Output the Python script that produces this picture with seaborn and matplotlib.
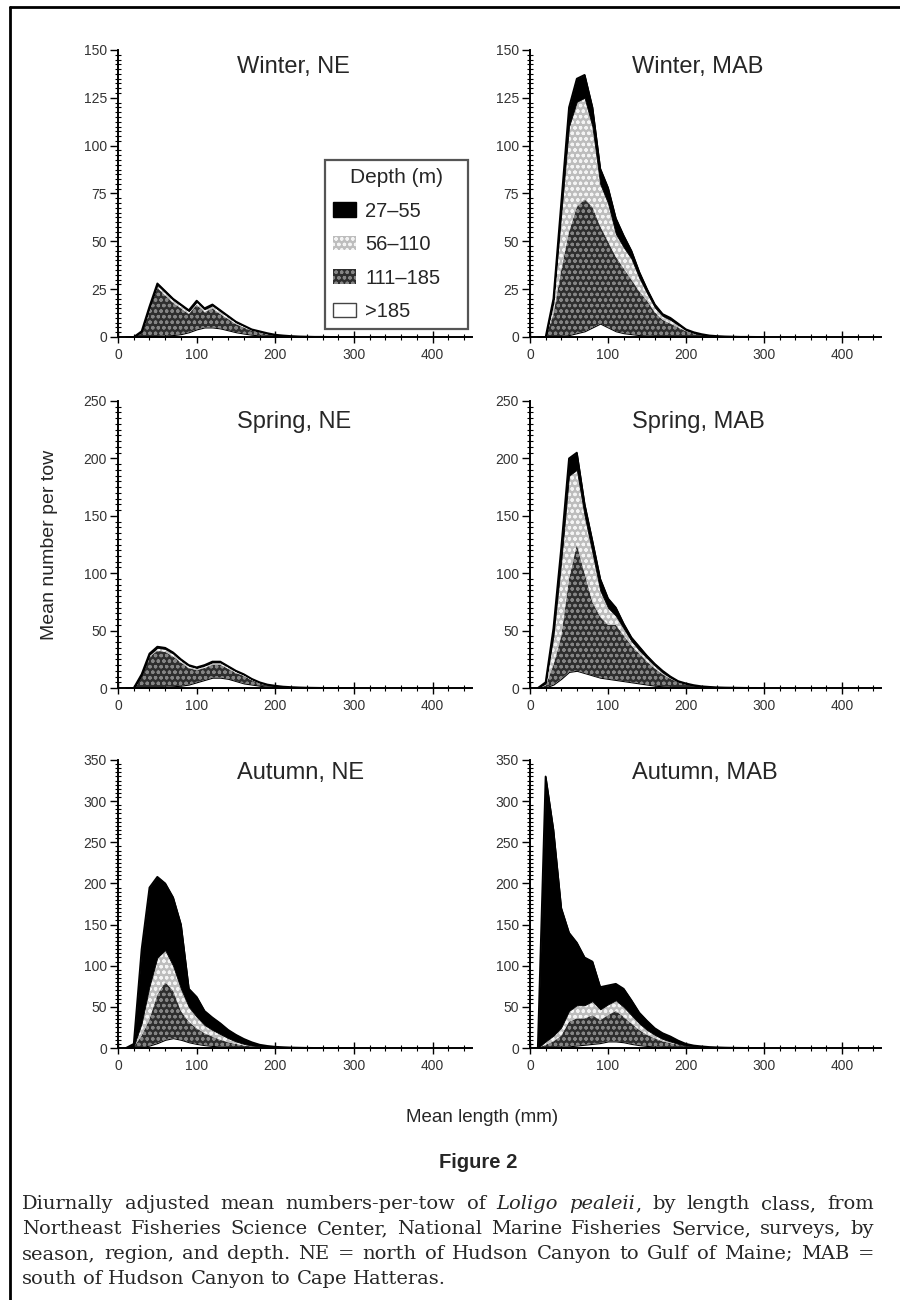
import numpy as np
import pandas as pd
import matplotlib
matplotlib.use("Agg")
import matplotlib.pyplot as plt
from matplotlib.lines import Line2D
from matplotlib.patches import Patch
from matplotlib.ticker import MultipleLocator
import seaborn as sns

# length classes (mm), bin centres
lengths = [10, 20, 30, 40, 50, 60, 70, 80, 90, 100, 110, 120, 130, 140, 150,
           160, 170, 180, 190, 200, 210, 220, 230, 240, 250, 260, 270, 280, 290, 300]
depths = ["27–55", "56–110", "111–185", ">185"]

# mean number per tow by depth stratum
winter_ne_27_55 = [0, 0, 0.2, 0.5, 0.8, 0.7, 0.6, 0.5, 0.5, 0.6, 0.5, 0.5, 0.5, 0.4, 0.3,
                   0.2, 0.2, 0.1, 0.1, 0.1, 0.05, 0.05, 0, 0, 0, 0, 0, 0, 0, 0]
winter_ne_56_110 = [0, 0, 0.3, 1, 1.5, 1.5, 1.5, 1.5, 1.5, 1.5, 1.5, 1.5, 1.5, 1.2, 1,
                    0.8, 0.5, 0.4, 0.3, 0.2, 0.1, 0.1, 0, 0, 0, 0, 0, 0, 0, 0]
winter_ne_111_185 = [0, 0, 2.5, 14.2, 25.2, 21, 16.9, 13.5, 9.5, 12.9, 8, 10, 7.5, 5.9, 4.2,
                     3.2, 2.1, 1.7, 1.1, 0.6, 0.45, 0.25, 0.2, 0.2, 0.1, 0.1, 0.05, 0.05, 0, 0]
winter_ne_185 = [0, 0, 0, 0.3, 0.5, 0.8, 1, 1.5, 2.5, 4, 5, 5, 4.5, 3.5, 2.5,
                 1.8, 1.2, 0.8, 0.5, 0.3, 0.2, 0.1, 0.1, 0, 0, 0, 0, 0, 0, 0]

winter_mab_27_55 = [0, 0, 2, 6, 10, 12, 12, 10, 8, 8, 8, 6, 4, 3, 2,
                    1.5, 1, 1, 0.7, 0.4, 0.3, 0.2, 0.1, 0.05, 0.05, 0.02, 0, 0.02, 0, 0]
winter_mab_56_110 = [0, 0, 6, 29, 55, 55, 53, 42, 22, 20, 12, 11, 11, 7, 4,
                     2.5, 2, 2, 1.3, 0.6, 0.2, 0.1, 0.1, 0.05, 0.05, 0.03, 0, 0.03, 0, 0]
winter_mab_111_185 = [0, 0, 12, 34.5, 54, 66, 69, 63, 51, 45, 39, 34, 28.5, 23, 18.2,
                      12.5, 8.6, 6.7, 4.8, 2.9, 1.9, 1.2, 0.6, 0.4, 0.2, 0.15, 0.1, 0.05, 0.05, 0]
winter_mab_185 = [0, 0, 0, 0.5, 1, 2, 3, 5, 7, 5, 3, 2, 1.5, 1, 0.8,
                  0.5, 0.4, 0.3, 0.2, 0.1, 0.1, 0, 0, 0, 0, 0, 0, 0, 0, 0]

spring_ne_27_55 = [0, 0, 0.5, 1, 1, 1, 1, 0.8, 0.6, 0.5, 0.5, 0.6, 0.6, 0.5, 0.4,
                   0.3, 0.2, 0.2, 0.1, 0.1, 0.05, 0, 0, 0, 0, 0, 0, 0, 0, 0]
spring_ne_56_110 = [0, 0, 1, 2, 2.5, 2.5, 2.5, 2, 2, 2, 2, 2, 2, 1.8, 1.5,
                    1.2, 1, 0.7, 0.5, 0.3, 0.2, 0.1, 0.1, 0, 0, 0, 0, 0, 0, 0]
spring_ne_111_185 = [0, 0, 10.5, 26.7, 32, 30.5, 26, 20.2, 14.4, 10.5, 10.5, 11.4, 11.4, 8.7, 7.1,
                     6.5, 3.8, 2.1, 1.4, 1.0, 0.65, 0.5, 0.3, 0.3, 0.2, 0.1, 0.1, 0.05, 0, 0]
spring_ne_185 = [0, 0, 0, 0.3, 0.5, 1, 1.5, 2, 3, 5, 7, 9, 9, 8, 6,
                 4, 3, 2, 1, 0.6, 0.3, 0.2, 0.1, 0, 0, 0, 0, 0, 0, 0]

spring_mab_27_55 = [0, 1, 7, 12, 15, 15, 10, 10, 10, 8, 7, 4, 3, 3, 2,
                    1.5, 1.5, 1, 0.5, 0.4, 0.3, 0.2, 0.1, 0.1, 0.05, 0.05, 0.05, 0.02, 0.02, 0.01]
spring_mab_56_110 = [0, 2, 25, 65, 90, 65, 50, 43, 23, 15, 8, 6, 4, 3, 3,
                     2.5, 1.5, 1, 0.5, 0.6, 0.2, 0.1, 0.1, 0.05, 0.05, 0.05, 0.03, 0.02, 0.02, 0.01]
spring_mab_111_185 = [0, 1.5, 17, 37, 81, 110, 87, 64, 53, 47, 48, 40, 32, 26, 20,
                      15, 10.5, 7, 4.4, 2.6, 1.8, 1.1, 0.7, 0.4, 0.3, 0.2, 0.12, 0.06, 0.06, 0.03]
spring_mab_185 = [0, 0.5, 3, 8, 14, 15, 13, 11, 9, 8, 7, 6, 5, 4, 3,
                  2, 1.5, 1, 0.6, 0.4, 0.2, 0.1, 0.1, 0.05, 0, 0, 0, 0, 0, 0]

autumn_ne_27_55 = [0, 3, 90, 120, 98, 81, 83, 78, 22, 24, 17, 15, 13, 10, 8,
                   6, 4, 2, 1.3, 0.8, 0.6, 0.4, 0.3, 0.15, 0.1, 0.05, 0.05, 0, 0, 0]
autumn_ne_56_110 = [0, 1, 15, 40, 45, 39, 30, 27, 18, 14, 10, 8, 7, 5, 3,
                    2, 1, 0.8, 0.5, 0.3, 0.2, 0.1, 0.05, 0.05, 0, 0, 0, 0, 0, 0]
autumn_ne_111_185 = [0, 1, 14, 32, 59, 70, 58, 35, 25, 19, 14.5, 11.5, 8.2, 5.8, 4.2,
                     2.5, 1.7, 1, 0.6, 0.35, 0.2, 0.1, 0.05, 0, 0, 0, 0, 0, 0, 0]
autumn_ne_185 = [0, 0, 1, 3, 6, 10, 12, 10, 7, 5, 3.5, 2.5, 1.8, 1.2, 0.8,
                 0.5, 0.3, 0.2, 0.1, 0.05, 0, 0, 0, 0, 0, 0, 0, 0, 0, 0]

autumn_mab_27_55 = [0, 322, 250, 145, 95, 76, 58, 48, 27, 23, 20, 22, 18, 13, 11,
                    8, 7, 6, 4, 2, 1, 0.8, 0.5, 0.3, 0.2, 0.1, 0.1, 0.05, 0.02, 0]
autumn_mab_56_110 = [0, 4, 7, 10, 13, 16, 16, 17, 13, 13, 13, 12, 10, 8, 6,
                     4, 3, 2, 1, 0.5, 0.5, 0.3, 0.2, 0.15, 0.1, 0.08, 0.04, 0.02, 0.01, 0]
autumn_mab_111_185 = [0, 3.5, 7, 13.5, 30, 33, 32, 35, 28, 32, 37, 31, 25, 18.5, 13.5,
                      10.2, 6.8, 5.2, 3.5, 2.2, 1.3, 0.8, 0.45, 0.35, 0.2, 0.12, 0.06, 0.03, 0.02, 0]
autumn_mab_185 = [0, 0.5, 1, 1.5, 2, 3, 4, 5, 6, 8, 8, 7, 5, 3.5, 2.5,
                  1.8, 1.2, 0.8, 0.5, 0.3, 0.2, 0.1, 0.05, 0, 0, 0, 0, 0, 0, 0]

# (title, row, col, ymax, major step, minor step, series in depth order)
panels = [
    ("Winter, NE", 0, 0, 150, 25, 2.5, [winter_ne_27_55, winter_ne_56_110, winter_ne_111_185, winter_ne_185]),
    ("Winter, MAB", 0, 1, 150, 25, 2.5, [winter_mab_27_55, winter_mab_56_110, winter_mab_111_185, winter_mab_185]),
    ("Spring, NE", 1, 0, 250, 50, 5, [spring_ne_27_55, spring_ne_56_110, spring_ne_111_185, spring_ne_185]),
    ("Spring, MAB", 1, 1, 250, 50, 5, [spring_mab_27_55, spring_mab_56_110, spring_mab_111_185, spring_mab_185]),
    ("Autumn, NE", 2, 0, 350, 50, 5, [autumn_ne_27_55, autumn_ne_56_110, autumn_ne_111_185, autumn_ne_185]),
    ("Autumn, MAB", 2, 1, 350, 50, 5, [autumn_mab_27_55, autumn_mab_56_110, autumn_mab_111_185, autumn_mab_185]),
]

caption = [
    "Diurnally adjusted mean numbers-per-tow of _Loligo_ _pealeii_, by length class, from",
    "Northeast Fisheries Science Center, National Marine Fisheries Service, surveys, by",
    "season, region, and depth. NE = north of Hudson Canyon to Gulf of Maine; MAB =",
    "south of Hudson Canyon to Cape Hatteras.",
]

LIGHT = "#bdbdbd"
DARK = "#2e2e2e"
palette = {"27–55": "black", "56–110": LIGHT, "111–185": DARK, ">185": "white"}
styles = {
    "27–55": dict(facecolor="black", edgecolor="black", hatch=None, lw=0.6),
    "56–110": dict(facecolor=LIGHT, edgecolor="#f4f4f4", hatch="ooo", lw=0),
    "111–185": dict(facecolor=DARK, edgecolor="#858585", hatch="ooo", lw=0),
    ">185": dict(facecolor="white", edgecolor="black", hatch=None, lw=0.8),
}

sns.set_theme(style="ticks")
plt.rcParams["font.family"] = ["Liberation Sans", "DejaVu Sans"]
plt.rcParams["hatch.linewidth"] = 0.9
plt.rcParams["axes.edgecolor"] = "black"
plt.rcParams["xtick.color"] = "black"
plt.rcParams["ytick.color"] = "black"

W, H = 900, 1300
fig = plt.figure(figsize=(9, 13), dpi=100)

col_x = [118, 530]
col_w = [354, 351]
row_top = [50, 401, 760]
row_bot = [337, 688, 1048]
title_x = [0.336, 0.29]
title_y = [0.941, 0.927, 0.955]

bin_edges = [l - 5 for l in lengths] + [lengths[-1] + 5]
hex_of = {k: matplotlib.colors.to_hex(v) for k, v in palette.items()}

axes = []
for title, r, c, ymax, major, minor, series in panels:
    ax = fig.add_axes([col_x[c] / W, 1 - row_bot[r] / H, col_w[c] / W, (row_bot[r] - row_top[r]) / H])
    df = pd.DataFrame({
        "length": lengths * len(depths),
        "depth": [d for d in depths for _ in lengths],
        "count": [v for s in series for v in s],
    })
    sns.histplot(data=df, x="length", weights="count", hue="depth", hue_order=depths,
                 multiple="stack", element="poly", bins=bin_edges, palette=palette,
                 alpha=1, legend=False, ax=ax)
    for coll in ax.collections:
        fc = matplotlib.colors.to_hex(coll.get_facecolor()[0])
        for d, hx in hex_of.items():
            if hx == fc:
                st = styles[d]
                coll.set_facecolor(st["facecolor"])
                coll.set_edgecolor(st["edgecolor"])
                coll.set_hatch(st["hatch"])
                coll.set_linewidth(st["lw"])
    total = [sum(v) for v in zip(*series)]
    sns.lineplot(x=lengths, y=total, color="black", linewidth=1.3, ax=ax)

    ax.set_xlim(0, 450)
    ax.set_ylim(0, ymax)
    ax.set_xlabel("")
    ax.set_ylabel("")
    ax.xaxis.set_major_locator(MultipleLocator(100))
    ax.xaxis.set_minor_locator(MultipleLocator(20))
    ax.yaxis.set_major_locator(MultipleLocator(major))
    ax.yaxis.set_minor_locator(MultipleLocator(minor))
    ax.tick_params(axis="y", which="major", direction="out", length=6, width=1,
                   labelsize=10, labelcolor="#333333", pad=2)
    ax.tick_params(axis="y", which="minor", direction="inout", length=4, width=0.8)
    ax.tick_params(axis="x", which="major", direction="inout", length=8, width=1,
                   labelsize=10, labelcolor="#333333", pad=4)
    ax.tick_params(axis="x", which="minor", direction="inout", length=5, width=0.8)
    sns.despine(ax=ax)
    for s in ("left", "bottom"):
        ax.spines[s].set_linewidth(1.4)
    ax.set_facecolor("white")
    ax.text(title_x[c], title_y[r], title, transform=ax.transAxes, fontsize=17,
            ha="left", va="center")
    axes.append(ax)

# legend in the first panel
handles = [
    Patch(facecolor="black", edgecolor="black"),
    Patch(facecolor=LIGHT, edgecolor="#f4f4f4", hatch="ooo", linewidth=0),
    Patch(facecolor=DARK, edgecolor="#858585", hatch="ooo", linewidth=0),
    Patch(facecolor="white", edgecolor="#444444", linewidth=1),
]
leg = axes[0].legend(handles, depths, title="Depth (m)", loc="upper left",
                     bbox_to_anchor=(325 / W, 1 - 325 / H, 143 / W, 165 / H),
                     bbox_transform=fig.transFigure, mode="expand",
                     fontsize=14.5, title_fontsize=15, frameon=True, fancybox=False,
                     edgecolor="#555555", framealpha=1, borderpad=0.4, labelspacing=0.72,
                     handlelength=1.15, handleheight=0.75, handletextpad=0.45, borderaxespad=0)
leg.get_frame().set_linewidth(1.6)

fig.text(50 / W, 1 - 545 / H, "Mean number per tow", rotation=90, fontsize=14,
         ha="center", va="center")
fig.text(482 / W, 1 - 1117 / H, "Mean length (mm)", fontsize=13.5, ha="center", va="center")
fig.text(478 / W, 1 - 1163 / H, "Figure 2", fontsize=14.5, fontweight="bold",
         ha="center", va="center")

# justified caption
renderer = fig.canvas.get_renderer()
cap_kw = dict(fontsize=14, family="DejaVu Serif", va="baseline")


def segments(word):
    parts = word.split("_")
    return [(p, i % 2 == 1) for i, p in enumerate(parts) if p]


def text_width(txt, italic):
    t = fig.text(0, 0, txt, style="italic" if italic else "normal", **cap_kw)
    w = t.get_window_extent(renderer).width
    t.remove()
    return w


left, right = 22, 874
baselines = [1209, 1234, 1259, 1284]
for i, line in enumerate(caption):
    words = line.split()
    widths = [[text_width(s, it) for s, it in segments(wd)] for wd in words]
    totals = [sum(w) for w in widths]
    if i < len(caption) - 1:
        gap = (right - left - sum(totals)) / (len(words) - 1)
    else:
        gap = 6
    x = left
    for wd, ws in zip(words, widths):
        xs = x
        for (s, it), w in zip(segments(wd), ws):
            fig.text(xs / W, 1 - baselines[i] / H, s, style="italic" if it else "normal", **cap_kw)
            xs += w
        x += sum(ws) + gap

# page frame lines
fig.add_artist(Line2D([10 / W, 1], [1 - 7 / H, 1 - 7 / H], transform=fig.transFigure,
                      color="black", linewidth=2))
fig.add_artist(Line2D([10 / W, 10 / W], [1 - 7 / H, 0], transform=fig.transFigure,
                      color="black", linewidth=2))

fig.savefig("out.png", dpi=100)
